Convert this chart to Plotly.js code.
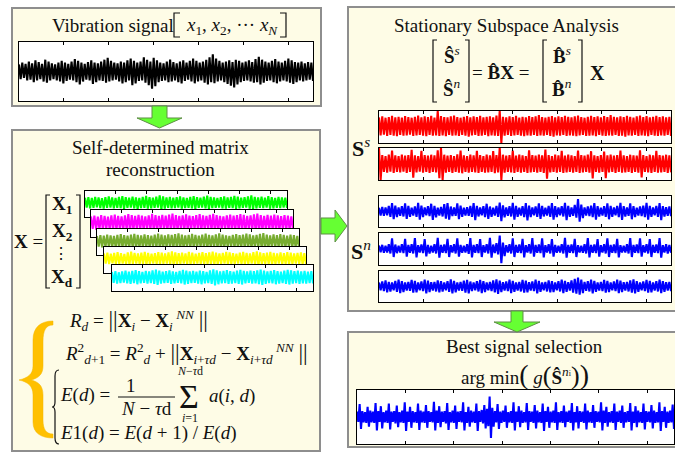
<!DOCTYPE html>
<html>
<head>
<meta charset="utf-8">
<script src="https://cdn.plot.ly/plotly-3.0.1.min.js"></script>
<style>
  html, body { margin: 0; padding: 0; background: #ffffff; }
  #chart { width: 675px; height: 452px; }
</style>
</head>
<body>
<div id="chart"></div>
<script>
// Signals are stored as successive local maxima / minima (percent of the panel half-height).

// raw vibration signal [x1, x2, ... xN]
const vibration = [
  24,-26, 30,-22, 26,-30, 34,-28, 28,-36, 38,-30, 32,-26, 26,-34, 40,-38, 34,-30,
  28,-26, 24,-30, 30,-34, 36,-40, 30,-32, 26,-28, 34,-30, 42,-36, 36,-44, 30,-34,
  26,-28, 32,-30, 38,-42, 30,-36, 28,-30, 34,-32, 40,-38, 46,-34, 36,-30, 30,-28,
  28,-34, 34,-40, 30,-36, 38,-30, 44,-46, 36,-40, 30,-32, 34,-30, 48,-38, 40,-46,
  34,-58, 46,-50, 38,-36, 30,-32, 28,-30, 34,-36, 40,-34, 32,-30, 28,-36, 34,-40,
  38,-32, 30,-28, 36,-34, 44,-40, 36,-34, 30,-30, 34,-38, 40,-44, 48,-36, 58,-40,
  44,-34, 36,-30, 30,-36, 34,-42, 38,-48, 32,-54, 40,-44, 36,-36, 30,-32, 34,-30,
  38,-34, 32,-38, 42,-36, 50,-44, 40,-38, 34,-32, 30,-30, 36,-36, 42,-40, 34,-34,
  30,-30, 36,-34, 44,-38, 38,-42, 32,-36, 30,-30, 34,-34, 28,-30, 32,-28, 30,-32
];

// reconstructed matrix rows X1, X2, ..., Xd
const rowX1 = [
  48,-28, 52,-34, 46,-30, 55,-26, 50,-32, 44,-36, 52,-30, 58,-28, 50,-34, 46,-30,
  54,-32, 60,-38, 52,-30, 48,-28, 56,-34, 50,-40, 46,-32, 54,-30, 62,-36, 52,-34,
  48,-30, 56,-28, 66,-42, 58,-36, 50,-30, 54,-34, 48,-32, 52,-28, 58,-36, 50,-32,
  46,-30, 54,-34, 60,-38, 52,-30, 48,-28, 56,-34, 64,-40, 54,-32, 50,-30, 46,-28,
  52,-34, 58,-36, 50,-30, 54,-32, 62,-38, 56,-34, 48,-30, 52,-28, 58,-36, 66,-40,
  54,-34, 50,-30, 56,-32, 48,-28, 60,-36, 52,-34, 46,-30, 54,-32, 50,-28, 48,-30
];
const rowX2 = [
  52,-40, 58,-46, 50,-42, 62,-48, 56,-40, 50,-44, 60,-50, 66,-46, 56,-42, 52,-48,
  60,-44, 70,-54, 62,-48, 56,-42, 64,-50, 58,-46, 52,-42, 60,-48, 72,-56, 62,-50,
  56,-44, 64,-46, 58,-52, 66,-48, 74,-58, 62,-50, 56,-44, 60,-48, 68,-52, 58,-46,
  54,-42, 62,-48, 70,-54, 60,-46, 56,-42, 64,-50, 72,-60, 62,-48, 56,-44, 52,-42,
  60,-48, 66,-52, 58,-46, 62,-48, 70,-56, 64,-50, 56,-44, 60,-46, 68,-54, 74,-58,
  62,-50, 56,-44, 64,-48, 58,-46, 66,-52, 60,-48, 54,-42, 62,-50, 58,-46, 52,-44
];
const rowX3 = [
  46,-36, 52,-42, 48,-40, 56,-44, 50,-38, 46,-42, 54,-46, 60,-44, 52,-40, 48,-44,
  56,-42, 62,-50, 54,-44, 50,-40, 58,-46, 52,-42, 48,-38, 56,-44, 64,-50, 56,-46,
  50,-40, 58,-42, 54,-48, 60,-44, 66,-52, 56,-46, 50,-40, 54,-44, 62,-48, 54,-42,
  48,-38, 56,-44, 64,-50, 54,-42, 50,-40, 58,-46, 66,-54, 56,-44, 50,-40, 46,-38,
  54,-44, 60,-48, 52,-42, 56,-44, 64,-50, 58,-46, 50,-40, 54,-42, 62,-50, 68,-54,
  56,-46, 50,-40, 58,-44, 52,-42, 60,-48, 54,-44, 48,-38, 56,-46, 52,-42, 46,-40
];
const rowX4 = [
  50,-28, 56,-32, 48,-26, 54,-34, 60,-30, 52,-28, 46,-32, 58,-36, 64,-30, 54,-28,
  50,-34, 56,-30, 62,-38, 54,-32, 48,-28, 52,-30, 60,-34, 56,-30, 50,-28, 58,-36,
  66,-40, 58,-34, 52,-30, 56,-28, 50,-32, 62,-36, 56,-32, 48,-28, 54,-30, 60,-34,
  52,-30, 58,-32, 64,-38, 56,-34, 50,-30, 54,-28, 62,-36, 58,-32, 52,-30, 48,-28,
  56,-32, 62,-36, 54,-30, 50,-28, 60,-34, 66,-42, 58,-34, 52,-30, 56,-32, 62,-38,
  54,-32, 50,-28, 58,-34, 52,-30, 60,-36, 56,-32, 50,-28, 54,-30, 58,-34, 52,-30
];
const rowXd = [
  46,-38, 52,-44, 44,-40, 50,-36, 56,-42, 48,-46, 54,-40, 60,-48, 52,-42, 46,-38,
  54,-44, 50,-40, 58,-46, 64,-52, 56,-44, 48,-40, 52,-38, 58,-46, 50,-42, 46,-38,
  54,-42, 62,-50, 56,-46, 50,-40, 54,-38, 48,-44, 56,-48, 52,-42, 46,-40, 58,-46,
  66,-56, 58,-48, 50,-42, 54,-40, 60,-46, 52,-44, 48,-40, 56,-46, 62,-50, 54,-42,
  50,-38, 56,-44, 52,-42, 58,-48, 64,-52, 56,-46, 50,-40, 54,-42, 60,-48, 52,-44,
  48,-40, 56,-46, 62,-50, 58,-44, 52,-40, 56,-46, 50,-42, 54,-44, 48,-40, 52,-42
];

// stationary sources S^s
const stationary1 = [
  60,-52, 66,-48, 58,-56, 62,-50, 70,-54, 60,-58, 64,-50, 58,-54, 68,-52, 62,-48,
  58,-56, 64,-52, 72,-50, 60,-54, 66,-58, 62,-50, 70,-54, 58,-52, 100,-56, 68,-52,
  62,-58, 60,-50, 66,-54, 72,-52, 62,-56, 58,-50, 64,-54, 68,-60, 60,-52, 66,-50,
  62,-56, 70,-54, 60,-50, 64,-58, 66,-52, 60,-54, 72,-56, 100,-100, 64,-54, 60,-50,
  66,-56, 62,-52, 70,-50, 58,-54, 64,-58, 60,-52, 68,-54, 62,-50, 66,-56, 74,-52,
  62,-54, 58,-50, 64,-56, 68,-60, 60,-52, 66,-54, 62,-50, 70,-56, 64,-52, 60,-54,
  66,-58, 72,-52, 62,-50, 58,-56, 64,-54, 70,-52, 62,-58, 66,-50, 60,-54, 68,-56,
  62,-52, 74,-54, 64,-50, 60,-56, 66,-54, 62,-60, 70,-52, 64,-54, 58,-50, 66,-56,
  72,-52, 62,-54, 68,-58, 60,-50, 64,-54, 70,-56, 62,-52, 66,-54, 60,-50, 64,-56
];
const stationary2 = [
  100,-100, 56,-50, 50,-54, 58,-48, 84,-56, 54,-50, 50,-52, 58,-48, 52,-56, 56,-50,
  88,-86, 54,-52, 50,-48, 82,-54, 56,-50, 52,-56, 58,-50, 54,-52, 86,-88, 100,-100,
  58,-54, 52,-50, 56,-56, 50,-50, 60,-54, 84,-58, 54,-50, 50,-54, 58,-50, 54,-52,
  82,-56, 56,-50, 50,-54, 58,-52, 54,-50, 80,-58, 56,-52, 100,-100, 58,-54, 52,-50,
  56,-52, 84,-56, 52,-50, 58,-54, 54,-50, 50,-56, 86,-52, 56,-50, 52,-54, 58,-50,
  54,-56, 90,-92, 56,-52, 50,-50, 58,-54, 54,-50, 82,-56, 52,-52, 58,-50, 54,-54,
  50,-50, 84,-56, 56,-52, 52,-50, 58,-54, 80,-90, 54,-50, 50,-54, 56,-50, 78,-88,
  54,-52, 58,-50, 52,-56, 56,-50, 84,-54, 54,-52, 50,-50, 58,-56, 54,-50, 52,-54,
  86,-84, 56,-50, 50,-52, 58,-56, 54,-50, 82,-54, 56,-52, 52,-50, 58,-56, 54,-52
];

// non-stationary sources S^n
const nonstationary1 = [
  24,-26, 30,-28, 26,-24, 36,-34, 54,-50, 38,-36, 26,-28, 34,-32, 52,-48, 36,-34,
  24,-26, 32,-34, 56,-52, 38,-36, 26,-24, 34,-30, 50,-54, 36,-38, 24,-26, 30,-32,
  48,-46, 54,-52, 32,-30, 26,-28, 52,-50, 38,-34, 24,-26, 28,-28, 36,-34, 54,-56,
  36,-32, 26,-24, 34,-36, 50,-48, 32,-34, 24,-26, 36,-34, 58,-62, 40,-38, 26,-28,
  34,-32, 56,-52, 36,-34, 24,-26, 34,-36, 54,-58, 38,-36, 26,-24, 32,-34, 52,-48,
  36,-32, 24,-26, 36,-34, 54,-52, 34,-36, 26,-24, 34,-32, 56,-56, 36,-34, 26,-28,
  42,-40, 80,-66, 44,-42, 26,-26, 32,-30, 38,-36, 54,-52, 34,-32, 24,-26, 34,-34,
  52,-50, 36,-34, 26,-24, 36,-36, 56,-54, 34,-32, 26,-28, 52,-50, 34,-36, 24,-26,
  32,-30, 38,-36, 56,-52, 36,-34, 26,-24, 36,-34, 54,-56, 34,-32, 28,-28, 32,-30
];
const nonstationary2 = [
  22,-20, 26,-24, 20,-22, 30,-28, 66,-50, 28,-26, 20,-22, 30,-26, 64,-48, 26,-24,
  30,-28, 68,-52, 24,-22, 28,-26, 62,-46, 26,-28, 20,-22, 30,-28, 70,-54, 26,-24,
  28,-26, 64,-50, 24,-22, 30,-28, 66,-48, 26,-24, 20,-22, 30,-30, 68,-52, 26,-24,
  30,-26, 62,-50, 24,-22, 30,-28, 70,-54, 28,-26, 36,-34, 84,-88, 40,-44, 24,-22,
  30,-28, 66,-50, 26,-24, 28,-26, 64,-52, 24,-22, 30,-28, 68,-48, 26,-24, 28,-26,
  66,-52, 24,-22, 30,-28, 62,-48, 26,-24, 20,-22, 30,-28, 70,-54, 26,-24, 28,-26,
  64,-50, 24,-22, 20,-24, 30,-28, 68,-52, 26,-24, 28,-26, 62,-48, 24,-22, 30,-28,
  66,-50, 26,-24, 28,-26, 64,-52, 24,-22, 20,-22, 30,-28, 68,-50, 26,-24, 28,-26,
  66,-48, 24,-22, 30,-28, 62,-50, 26,-24, 28,-26, 68,-54, 24,-22, 30,-28, 26,-24
];
const nonstationary3 = [
  26,-24, 32,-30, 40,-38, 30,-32, 26,-24, 36,-34, 44,-42, 34,-36, 26,-26, 30,-28,
  42,-40, 36,-38, 26,-24, 32,-30, 44,-44, 38,-36, 28,-26, 30,-32, 40,-38, 34,-32,
  26,-24, 34,-34, 46,-44, 36,-38, 26,-26, 30,-28, 38,-40, 42,-44, 32,-30, 26,-24,
  34,-32, 42,-42, 34,-36, 26,-24, 30,-30, 40,-38, 46,-48, 38,-36, 28,-26, 32,-30,
  44,-42, 36,-34, 26,-26, 30,-32, 42,-40, 38,-38, 28,-26, 32,-30, 44,-44, 36,-34,
  26,-24, 30,-32, 40,-38, 34,-36, 26,-24, 34,-32, 44,-42, 36,-34, 28,-26, 40,-40,
  50,-46, 58,-52, 44,-42, 30,-28, 34,-32, 44,-44, 36,-34, 26,-26, 30,-30, 42,-40,
  36,-36, 26,-24, 32,-30, 44,-42, 38,-36, 28,-26, 30,-32, 40,-40, 46,-44, 34,-34,
  26,-24, 32,-30, 42,-40, 36,-38, 26,-26, 34,-32, 44,-42, 34,-34, 28,-26, 30,-30
];

// selected component
const best = [
  20,-18, 48,-44, 22,-20, 18,-22, 38,-36, 24,-20, 20,-22, 52,-50, 22,-18, 40,-42,
  18,-20, 24,-22, 50,-46, 20,-18, 22,-24, 42,-38, 18,-20, 24,-22, 54,-52, 20,-18,
  38,-40, 22,-20, 18,-22, 50,-48, 24,-20, 20,-22, 44,-40, 22,-18, 18,-20, 56,-50,
  24,-22, 40,-38, 20,-18, 22,-24, 52,-48, 18,-20, 24,-22, 42,-44, 20,-18, 22,-20,
  54,-50, 18,-22, 38,-36, 24,-20, 20,-22, 50,-52, 22,-18, 26,-24, 44,-42, 30,-34,
  76,-78, 34,-36, 22,-20, 48,-44, 20,-22, 24,-18, 42,-40, 18,-20, 22,-22, 54,-50,
  20,-18, 40,-38, 24,-22, 18,-20, 52,-48, 22,-18, 20,-22, 44,-42, 24,-20, 18,-22,
  50,-52, 22,-18, 38,-40, 20,-20, 24,-22, 54,-48, 18,-20, 22,-22, 42,-38, 20,-18,
  24,-22, 52,-50, 18,-20, 40,-42, 22,-18, 20,-22, 50,-46, 24,-20, 18,-22, 44,-40,
  22,-18, 20,-20, 54,-50, 24,-22, 38,-36, 18,-20, 22,-22, 50,-48, 20,-18, 24,-22,
  42,-40, 18,-20, 22,-18, 52,-50, 20,-22, 40,-38, 24,-20, 18,-22, 50,-46, 22,-18,
  20,-20, 44,-42, 24,-22, 18,-20, 54,-52, 22,-18, 38,-40, 20,-22, 24,-20, 46,-44
];

const TICKS = [1, 2, 3, 4, 5, 6];
const XR = 6.55;   // time axis extent
const YR = 100;    // amplitude axis extent

// ---- page geometry (pixels) ----
const W = 675, H = 452;
const SERIF = 'Liberation Serif';

const panels = [
  { y: vibration,      color: '#000000', box: [19, 42, 313, 101] },
  { y: rowX1,          color: '#00FF00', box: [85, 191, 287, 217] },
  { y: rowX2,          color: '#FF00FF', box: [91, 210, 293, 237] },
  { y: rowX3,          color: '#77AC30', box: [97, 229, 299, 255] },
  { y: rowX4,          color: '#FFFF00', box: [104, 247, 306, 273] },
  { y: rowXd,          color: '#00FFFF', box: [112, 265, 313, 291] },
  { y: stationary1,    color: '#FF0000', box: [379, 111, 671, 143] },
  { y: stationary2,    color: '#FF0000', box: [379, 148, 671, 180] },
  { y: nonstationary1, color: '#0000FF', box: [379, 196, 671, 227] },
  { y: nonstationary2, color: '#0000FF', box: [379, 233, 671, 265] },
  { y: nonstationary3, color: '#0000FF', box: [379, 271, 671, 302] },
  { y: best,           color: '#0000FF', box: [357, 390, 674, 444] }
];

const fx = x => x / W;
const fy = y => 1 - y / H;
// convert a pixel-space SVG path into paper coordinates
const P = d => d.replace(/(-?\d+\.?\d*),(-?\d+\.?\d*)/g,
  (m, a, b) => fx(+a).toFixed(5) + ',' + fy(+b).toFixed(5));

const layout = {
  width: W, height: H,
  margin: { l: 0, r: 0, t: 0, b: 0, pad: 0 },
  paper_bgcolor: '#ffffff',
  plot_bgcolor: 'rgba(0,0,0,0)',
  font: { family: SERIF },
  showlegend: false,
  shapes: [],
  annotations: []
};
const traces = [];

panels.forEach((p, i) => {
  const s = i === 0 ? '' : String(i + 1);
  const [x0, y0, x1, y1] = p.box;
  layout['xaxis' + s] = {
    domain: [fx(x0), fx(x1)], range: [0, XR], anchor: 'y' + s,
    tickvals: TICKS, ticks: 'inside', ticklen: 3, tickwidth: 1, tickcolor: '#000',
    showticklabels: false, showgrid: false, zeroline: false,
    showline: true, linecolor: '#000', linewidth: 1, mirror: 'ticks', fixedrange: true
  };
  layout['yaxis' + s] = {
    domain: [fy(y1), fy(y0)], range: [-YR, YR], anchor: 'x' + s,
    ticks: '', showticklabels: false, showgrid: false, zeroline: false,
    showline: true, linecolor: '#000', linewidth: 1, mirror: true, fixedrange: true
  };
  // opaque panel background so stacked panels hide the ones behind them
  traces.push({
    x: [0, XR, XR, 0, 0], y: [-YR, -YR, YR, YR, -YR],
    xaxis: 'x' + s, yaxis: 'y' + s, mode: 'lines', fill: 'toself',
    fillcolor: '#ffffff', line: { width: 0 }, hoverinfo: 'skip'
  });
  const n = p.y.length;
  traces.push({
    x: p.y.map((_, k) => k * XR / (n - 1)), y: p.y,
    xaxis: 'x' + s, yaxis: 'y' + s, mode: 'lines',
    line: { color: p.color, width: 2.1 }, hoverinfo: 'skip'
  });
});

// ---- boxes ----
const CREAM = '#FEFCE6', EDGE = '#8E8E8E';
[[12, 8, 321, 106], [12, 130, 320, 451], [348, 7, 690, 311], [348, 332, 690, 447]]
  .forEach(([a, b, c, d]) => layout.shapes.push({
    type: 'rect', xref: 'paper', yref: 'paper', layer: 'below',
    x0: fx(a), x1: fx(c), y0: fy(d), y1: fy(b),
    fillcolor: CREAM, line: { color: EDGE, width: 2 }
  }));

// ---- block arrows ----
const GREEN = '#66FF33', GREEN_EDGE = '#5E8F45';
['M152,106 L167,106 L167,118 L182,118 L159.5,128 L137,118 L152,118 Z',
 'M321,218 L335,218 L335,210 L347,226 L335,242 L335,234 L321,234 Z',
 'M511,311 L523,311 L523,322 L540,322 L517,332 L494,322 L511,322 Z']
  .forEach(d => layout.shapes.push({
    type: 'path', xref: 'paper', yref: 'paper', layer: 'above', path: P(d),
    fillcolor: GREEN, line: { color: GREEN_EDGE, width: 1 }
  }));

// ---- brackets, braces and the fraction bar ----
const strokes = [
  'M180,13 L174,13 L174,37 L180,37',       // [ x1 ... xN ]
  'M280,13 L286,13 L286,37 L280,37',
  'M50,195 L46,195 L46,288 L50,288',       // [ X1 ... Xd ]
  'M76,195 L80,195 L80,288 L76,288',
  'M437,40 L433,40 L433,102 L437,102',     // [ S^s ; S^n ]
  'M465,40 L469,40 L469,102 L465,102',
  'M547,40 L543,40 L543,102 L547,102',     // [ B^s ; B^n ]
  'M578,40 L582,40 L582,102 L578,102',
  'M59,370 C56,370 55,372 55,376 L55,402 C55,405 54,407 52,407 C54,407 55,409 55,412 L55,438 C55,442 56,444 59,444',
  'M118,397 L175,397'
];
strokes.forEach(d => layout.shapes.push({
  type: 'path', xref: 'paper', yref: 'paper', layer: 'above', path: P(d),
  line: { color: '#111111', width: 1.2 }
}));
// large golden brace
layout.shapes.push({
  type: 'path', xref: 'paper', yref: 'paper', layer: 'above',
  path: P('M53,321 C41,321 33,327 33,340 L33,366 C33,374 28,378 19,380 C28,382 33,386 33,395 ' +
          'L33,422 C33,433 41,438 53,438 L53,434 C46,434 43,429 43,420 L43,395 C43,386 39,382 31,380 ' +
          'C39,378 43,374 43,366 L43,342 C43,330 46,325 53,325 Z'),
  fillcolor: '#FFC000', line: { color: '#F2B600', width: 0.5 }
});

// ---- text ----
function txt(x, y, text, size, anchor) {
  layout.annotations.push({
    xref: 'paper', yref: 'paper', x: fx(x), y: fy(y),
    xanchor: anchor || 'center', yanchor: 'middle', showarrow: false,
    text: text, font: { family: SERIF, size: size, color: '#111111' }
  });
}
const big = (c, s) => '<span style="font-size:' + s + 'px">' + c + '</span>';
const NORM = big('||', 23);

txt(50, 25, 'Vibration signal', 19, 'left');
txt(184, 26, '<i>x</i><sub>1</sub>, <i>x</i><sub>2</sub>, ··· <i>x</i><sub><i>N</i></sub>', 19, 'left');

txt(160, 147, 'Self-determined matrix', 19);
txt(160, 169, 'reconstruction', 19);

txt(28, 241, '<b>X</b> =', 19);
txt(62, 205, '<b>X</b><sub><b>1</b></sub>', 19);
txt(62, 232, '<b>X</b><sub><b>2</b></sub>', 19);
txt(61, 253, '⋮', 16);
txt(62, 278, '<b>X</b><sub><b>d</b></sub>', 19);

txt(67, 320, '<i>R</i><sub><i>d</i></sub> = ' + NORM + '<b>X</b><sub><i>i</i></sub> − <b>X</b><sub><i>i</i></sub><sup> <i>NN</i></sup> ' + NORM, 19, 'left');
txt(63, 353, '<i>R</i><sup>2</sup><sub><i>d</i>+1</sub> = <i>R</i><sup>2</sup><sub><i>d</i></sub> + ' + NORM +
    '<b>X</b><sub><i>i</i>+<i>τd</i></sub> − <b>X</b><sub><i>i</i>+<i>τd</i></sub><sup> <i>NN</i></sup> ' + NORM, 19, 'left');
txt(58, 395, '<i>E</i>(<i>d</i>) =', 19, 'left');
txt(131, 385, '1', 19);
txt(146, 408, '<i>N</i> − <i>τ</i>d', 19);
txt(189, 396, 'Σ', 34);
txt(190, 371, '<i>N</i>−<i>τ</i>d', 12);
txt(190, 418, '<i>i</i>=1', 12);
txt(207, 396, '<i>a</i>(<i>i</i>, <i>d</i>)', 19, 'left');
txt(58, 433, '<i>E</i>1(<i>d</i>) = <i>E</i>(<i>d</i> + 1) / <i>E</i>(<i>d</i>)', 19, 'left');

txt(506, 25, 'Stationary Subspace Analysis', 19);
txt(452, 55, '<b>Ŝ</b><sup><i>s</i></sup>', 19);
txt(452, 88, '<b>Ŝ</b><sup><i>n</i></sup>', 19);
txt(500, 73, '= <b>B̂X</b> =', 19);
txt(562, 55, '<b>B̂</b><sup><i>s</i></sup>', 19);
txt(562, 88, '<b>B̂</b><sup><i>n</i></sup>', 19);
txt(597, 73, '<b>X</b>', 20);

txt(361, 147, '<b>S</b><sup><i>s</i></sup>', 22);
txt(361, 250, '<b>S</b><sup><i>n</i></sup>', 22);

txt(524, 346, 'Best signal selection', 19);
txt(525, 374, 'arg min' + big('(', 28) + ' <i>g</i>' + big('(', 26) + '<b>Ŝ</b><sup><i>n</i>' + big('i', 8) + '</sup>' +
    big(')', 26) + big(')', 28), 19);

Plotly.newPlot('chart', traces, layout, { staticPlot: true, displayModeBar: false });
</script>
</body>
</html>
